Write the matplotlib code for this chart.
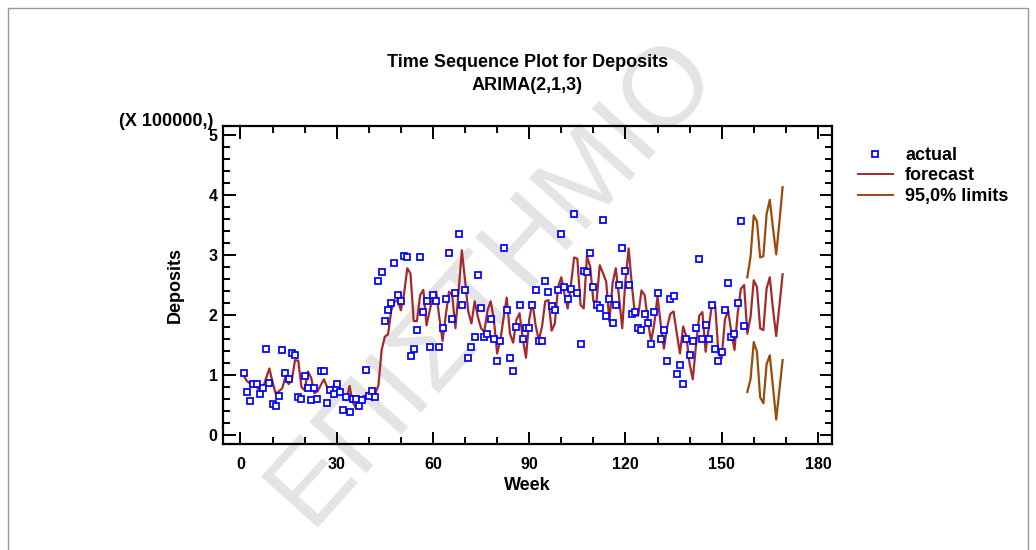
import matplotlib
matplotlib.use("Agg")
import matplotlib.pyplot as plt
import numpy as np
from matplotlib.lines import Line2D

plt.rcParams['font.family'] = ['Liberation Sans', 'DejaVu Sans']
plt.rcParams['font.weight'] = 'bold'

# weekly deposits (x 100000)
actual = [
    1.03, 0.72, 0.57, 0.85, 0.85, 0.69, 0.79, 1.44, 0.87, 0.52,
    0.48, 0.66, 1.41, 1.03, 0.93, 1.36, 1.33, 0.63, 0.60, 0.99,
    0.78, 0.58, 0.78, 0.60, 1.06, 1.06, 0.54, 0.76, 0.69, 0.85,
    0.72, 0.42, 0.64, 0.39, 0.61, 0.61, 0.48, 0.58, 1.08, 0.65,
    0.73, 0.63,
    2.56, 2.71, 1.90, 2.08, 2.20, 2.87, 2.33, 2.23, 2.99, 2.96,
    1.32, 1.44, 1.75, 2.96, 2.05, 2.23, 1.47, 2.33, 2.23, 1.47,
    1.78, 2.26, 3.04, 1.93, 2.36, 3.35, 2.17, 2.41, 1.29, 1.47,
    1.63, 2.66, 2.11, 1.63, 1.69, 1.93, 1.60, 1.23, 1.57, 3.11,
    2.08, 1.29, 1.06, 1.80, 2.17, 1.60, 1.78, 1.78, 2.17, 2.41,
    1.57, 1.57, 2.56, 2.38, 2.15, 2.08, 2.41, 3.35, 2.47, 2.26,
    2.44, 3.68, 2.36, 1.51, 2.74, 2.71, 3.04, 2.47, 2.17, 2.11,
    3.59, 1.99, 2.26, 1.87, 2.17, 2.50, 3.11, 2.74, 2.50, 2.02,
    2.05, 1.78, 1.75, 2.02, 1.87, 1.51, 2.05, 2.36, 1.60, 1.75,
    1.23, 2.26, 2.32, 1.02, 1.17, 0.85, 1.60, 1.33, 1.57, 1.78,
    2.93, 1.60, 1.84, 1.60, 2.17, 1.44, 1.23, 1.39, 2.08, 2.53,
    1.63, 1.69, 2.20, 3.56, 1.81,
]

# one-step forecasts for weeks 1..157 then 12 weeks ahead
forecast = [
    0.99, 0.90, 0.86, 0.84, 0.80, 0.74, 0.78, 0.95, 1.11, 0.88,
    0.69, 0.73, 0.78, 0.97, 0.85, 0.92, 1.25, 1.24, 0.80, 0.75,
    1.06, 0.96, 0.70, 0.73, 0.83, 0.93, 0.80, 0.71, 0.82, 0.89,
    0.78, 0.68, 0.58, 0.82, 0.55, 0.45, 0.52, 0.64, 0.66, 0.69,
    0.58, 0.69, 0.83, 1.42, 1.64, 1.68, 2.08, 2.22, 2.25, 2.08,
    2.36, 2.78, 2.69, 1.90, 1.90, 2.33, 2.42, 1.83, 2.08, 2.31,
    2.39, 1.95, 1.57, 2.00, 2.39, 2.33, 1.78, 2.40, 3.08, 2.58,
    2.06, 1.86, 2.23, 1.97, 1.78, 1.72, 2.08, 2.23, 1.92, 1.36,
    1.58, 1.95, 2.29, 1.69, 1.54, 1.92, 2.03, 1.60, 1.29, 1.92,
    2.22, 1.83, 1.58, 1.81, 2.23, 2.25, 1.74, 1.86, 2.47, 2.63,
    2.35, 2.11, 2.50, 2.96, 2.94, 2.17, 2.11, 2.98, 2.81, 2.23,
    2.23, 2.83, 2.70, 2.56, 1.89, 2.53, 2.78, 2.30, 1.78, 2.58,
    3.11, 2.50, 1.99, 1.99, 2.41, 2.33, 1.90, 1.56, 1.86, 2.31,
    1.85, 1.44, 1.80, 2.02, 2.06, 1.70, 1.36, 1.81, 1.64, 1.19,
    0.93, 1.50, 1.99, 2.05, 1.39, 1.80, 2.19, 2.15, 1.36, 1.28,
    1.92, 2.08, 1.72, 1.42, 2.03, 2.44, 2.50,
    1.69, 1.97, 2.58, 2.47, 1.78, 1.75, 2.44, 2.63, 2.10, 1.65, 2.15, 2.68,
]

upper = [2.63, 2.97, 3.66, 3.56, 2.96, 2.98, 3.68, 3.92, 3.45, 3.01, 3.55, 4.13]
lower = [0.72, 0.93, 1.55, 1.39, 0.63, 0.53, 1.18, 1.33, 0.80, 0.26, 0.75, 1.25]

weeks = np.arange(1, len(actual) + 1)
fweeks = np.arange(1, len(forecast) + 1)
lweeks = np.arange(len(actual) + 1, len(actual) + 1 + len(upper))

blue = '#0000ff'
red = '#a3292b'
brown = '#9a4a0c'

fig = plt.figure(figsize=(10.36, 5.5), dpi=100)
ax = fig.add_axes([0.2148, 0.1936, 0.5883, 0.5773])
ax.set_facecolor('none')

# faint watermark behind the chart
fig.text(0.475, 0.49, 'ΕΠΙΣΤΗΜΙΟ', rotation=48, ha='center', va='center',
         fontsize=80, fontweight='normal', color='#e4e4e4', zorder=-5)

ax.plot(fweeks, forecast, color=red, lw=1.6, zorder=2)
ax.plot(lweeks, upper, color=brown, lw=1.6, zorder=2)
ax.plot(lweeks, lower, color=brown, lw=1.6, zorder=2)
ax.plot(weeks, actual, ls='none', marker='s', ms=3.8, mfc='white', mec=blue, mew=1.25, zorder=3)

ax.set_xlim(-5.6, 184.4)
ax.set_ylim(-0.14, 5.15)
ax.set_xticks(np.arange(0, 181, 30))
ax.set_xticks(np.arange(0, 181, 10), minor=True)
ax.set_yticks(np.arange(0, 6, 1))
ax.set_yticks(np.arange(0, 5.01, 0.2), minor=True)
ax.tick_params(which='both', direction='in', top=True, right=True, width=1.4,
               labelsize=11.5)
ax.tick_params(which='major', length=9)
ax.tick_params(which='minor', length=5)
ax.tick_params(axis='x', which='major', pad=9.5)
for lab in ax.get_xticklabels() + ax.get_yticklabels():
    lab.set_fontweight('bold')
for sp in ax.spines.values():
    sp.set_linewidth(1.6)

ax.set_xlabel('Week', fontsize=13, fontweight='bold')
ax.xaxis.set_label_coords(0.4996, -0.105)
ax.set_ylabel('Deposits', fontsize=13, fontweight='bold')
ax.yaxis.set_label_coords(-0.063, 0.499)
ax.text(-0.0156, 1.0157, '(X 100000,)', transform=ax.transAxes, ha='right', va='center',
        fontsize=13, fontweight='bold')

fig.text(0.509, 0.887, 'Time Sequence Plot for Deposits', ha='center', va='center',
         fontsize=13, fontweight='bold')
fig.text(0.509, 0.844, 'ARIMA(2,1,3)', ha='center', va='center',
         fontsize=13, fontweight='bold')

handles = [
    Line2D([], [], ls='none', marker='s', ms=3.8, mfc='white', mec=blue, mew=1.25),
    Line2D([], [], color=red, lw=1.4),
    Line2D([], [], color=brown, lw=1.4),
]
fig.legend(handles, ['actual', 'forecast', '95,0% limits'], loc='upper left',
           bbox_to_anchor=(0.828, 0.733), frameon=False, borderpad=0,
           borderaxespad=0, handlelength=1.95, handletextpad=0.67,
           labelspacing=0.2, prop={'weight': 'bold', 'size': 13})

# outer frame of the graphics pane
fig.add_artist(Line2D([8 / 1036, 8 / 1036, 1028 / 1036, 1028 / 1036],
                      [0, 1 - 8 / 550, 1 - 8 / 550, 0],
                      transform=fig.transFigure, color='#999999', lw=1))

fig.savefig('out.png', dpi=100)
